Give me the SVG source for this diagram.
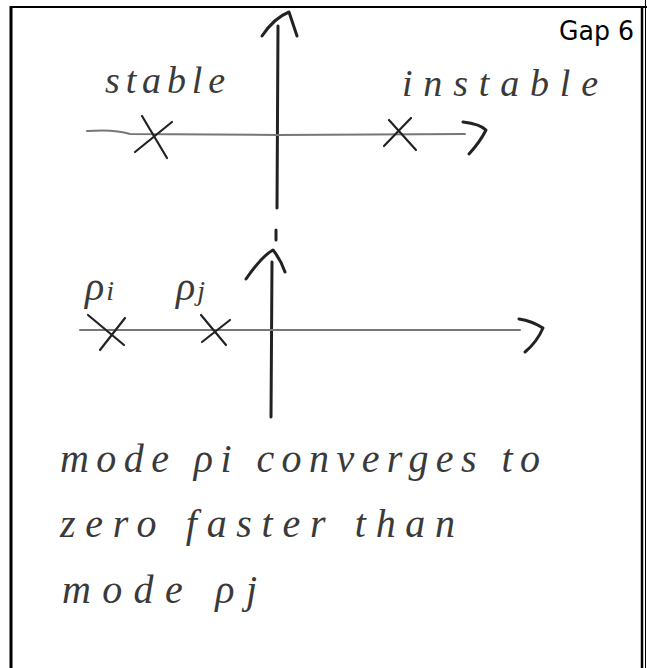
<svg xmlns="http://www.w3.org/2000/svg" width="647" height="668" viewBox="0 0 647 668">
<style>
.frame{stroke:#000;fill:none}
.axis{stroke:#222;stroke-width:3;fill:none;stroke-linecap:round;stroke-linejoin:round}
.haxis{stroke:#777;stroke-width:2;fill:none;stroke-linecap:round}
.cross{stroke:#222;stroke-width:2.2;fill:none;stroke-linecap:round}
.hand{font-family:"Liberation Serif","DejaVu Serif",serif;font-style:italic;fill:#3a3a3a}
.title{font-family:"DejaVu Sans","Liberation Sans",sans-serif;font-size:27px;fill:#000}
</style>
<rect width="647" height="668" fill="#fff"/>
<g id="frame">
<line class="frame" x1="11" y1="7" x2="647" y2="7" stroke-width="2"/>
<line class="frame" x1="11" y1="6" x2="11" y2="668" stroke-width="3"/>
<line class="frame" x1="642" y1="6" x2="642" y2="668" stroke-width="2.5"/>
<line class="frame" x1="645.5" y1="0" x2="645.5" y2="668" stroke-width="1"/>
</g>
<g id="title"><text class="title" x="559" y="40" textLength="75" lengthAdjust="spacingAndGlyphs">Gap 6</text></g>
<g id="connectors">
<path class="axis" d="M278 26 L277 208"/>
<path class="axis" d="M262 36 Q274 18 289 12 Q293 24 297 36" stroke-width="2"/>
<path class="haxis" d="M87 131 Q115 129 130 134 L278 135 L465 134"/>
<path class="axis" d="M463 122 Q480 124 486 130 Q480 142 469 154" stroke-width="2.5"/>
<path class="axis" d="M276 230 L276 240" stroke-width="2"/>
<path class="axis" d="M272 262 L271 417"/>
<path class="axis" d="M246 279 Q262 256 273 250 Q281 260 285 272" stroke-width="2"/>
<path class="haxis" d="M80 330 L520 330"/>
<path class="axis" d="M519 319 Q532 321 543 328 Q537 342 525 352" stroke-width="2"/>
</g>
<g id="upper-stable">
<path class="cross" d="M142 116 L167 158 M172 122 L135 152"/>
<text class="hand" x="105" y="93" font-size="38" textLength="120" lengthAdjust="spacing">stable</text>
</g>
<g id="upper-instable">
<path class="cross" d="M389 120 L416 150 M411 118 L384 146"/>
<text class="hand" x="402" y="96" font-size="38" textLength="196" lengthAdjust="spacing">instable</text>
</g>
<g id="pole-i">
<path class="cross" d="M88 315 L124 345 M125 318 L100 350"/>
<text class="hand" x="85" y="300" font-size="40">ρ<tspan font-size="28" dx="2">i</tspan></text>
</g>
<g id="pole-j">
<path class="cross" d="M201 315 L226 345 M230 320 L202 342"/>
<text class="hand" x="176" y="300" font-size="40">ρ<tspan font-size="28" dx="2">j</tspan></text>
</g>
<g id="note">
<text class="hand" x="60" y="472" font-size="40" textLength="480" lengthAdjust="spacing">mode ρi converges to</text>
<text class="hand" x="60" y="537" font-size="40" textLength="395" lengthAdjust="spacing">zero faster than</text>
<text class="hand" x="62" y="603" font-size="40" textLength="195" lengthAdjust="spacing">mode ρj</text>
</g>
</svg>
